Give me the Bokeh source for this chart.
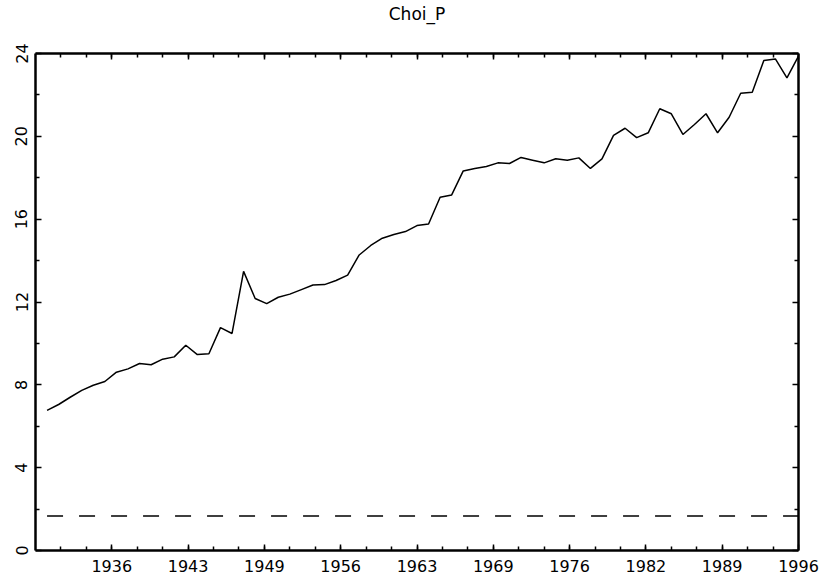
from bokeh.plotting import figure
from bokeh.models import Range1d, FixedTicker, LinearAxis, CustomJSTickFormatter
from bokeh.embed import file_html
from bokeh.resources import INLINE

# ---------------- data ----------------
title_text = "Choi_P"
years = list(range(1931, 1997))
choi_p = [
    6.77, 7.05, 7.40, 7.73, 7.98, 8.16, 8.61, 8.77, 9.03, 8.97,
    9.24, 9.35, 9.91, 9.46, 9.50, 10.76, 10.48, 13.48, 12.17, 11.92,
    12.23, 12.38, 12.60, 12.82, 12.84, 13.04, 13.30, 14.27, 14.73, 15.08,
    15.26, 15.40, 15.69, 15.77, 17.06, 17.17, 18.33, 18.45, 18.54, 18.72,
    18.69, 18.98, 18.85, 18.72, 18.92, 18.85, 18.96, 18.45, 18.91, 20.05,
    20.39, 19.94, 20.17, 21.33, 21.09, 20.09, 20.57, 21.09, 20.17, 20.92,
    22.08, 22.13, 23.66, 23.74, 22.82, 23.87,
]
crit_level = 1.66

x_start, x_end = 1930, 1996
y_start, y_end = 0, 24
x_major_ticks = [1936.6, 1943.2, 1949.8, 1956.4, 1963.0, 1969.6, 1976.2, 1982.8, 1989.4, 1996.0]
x_tick_labels = ["1936", "1943", "1949", "1956", "1963", "1969", "1976", "1982", "1989", "1996"]
x_minor_ticks = [1932.2, 1934.4, 1936.6, 1938.8, 1941.0, 1943.2, 1945.4, 1947.6, 1949.8,
                 1952.0, 1954.2, 1956.4, 1958.6, 1960.8, 1963.0, 1965.2, 1967.4, 1969.6,
                 1971.8, 1974.0, 1976.2, 1978.4, 1980.6, 1982.8, 1985.0, 1987.2, 1989.4,
                 1991.6, 1993.8]
y_major_ticks = [0, 4, 8, 12, 16, 20, 24]
y_minor_ticks = [2, 6, 10, 14, 18, 22]

FONT = "DejaVu Sans"

p = figure(
    width=824, height=581,
    x_range=Range1d(x_start, x_end), y_range=Range1d(y_start, y_end),
    output_backend="svg", toolbar_location=None,
    min_border_left=35, min_border_right=26, min_border_top=53, min_border_bottom=31,
)
p.grid.visible = False
p.outline_line_color = None
p.background_fill_color = "white"
p.border_fill_color = "white"

x_formatter = CustomJSTickFormatter(
    args=dict(tick_vals=x_major_ticks, tick_names=x_tick_labels),
    code="""
    let best = 0;
    for (let i = 0; i < tick_vals.length; i++) {
        if (Math.abs(tick_vals[i] - tick) < Math.abs(tick_vals[best] - tick)) best = i;
    }
    return tick_names[best];
    """,
)


def style(ax, show_labels):
    ax.axis_line_color = "black"
    ax.axis_line_width = 2.5
    ax.major_tick_in = 6
    ax.major_tick_out = 0
    ax.minor_tick_in = 4
    ax.minor_tick_out = 0
    ax.major_tick_line_color = "black"
    ax.minor_tick_line_color = "black"
    ax.major_tick_line_width = 1.5
    ax.minor_tick_line_width = 1.5
    ax.major_label_text_font = FONT
    if show_labels:
        ax.major_label_text_color = "black"
        ax.major_label_text_font_size = "16px"
    else:
        ax.major_label_text_color = None
        ax.major_label_text_font_size = "1px"
        ax.major_label_standoff = 0


xa = p.xaxis[0]
xa.ticker = FixedTicker(ticks=x_major_ticks, minor_ticks=x_minor_ticks)
xa.formatter = x_formatter
style(xa, True)
xa.major_label_standoff = 9

ya = p.yaxis[0]
ya.ticker = FixedTicker(ticks=y_major_ticks, minor_ticks=y_minor_ticks)
style(ya, True)
ya.major_label_orientation = "vertical"
ya.major_label_standoff = 8

top_ax = LinearAxis(ticker=FixedTicker(ticks=x_major_ticks, minor_ticks=x_minor_ticks))
style(top_ax, False)
p.add_layout(top_ax, "above")

# invisible spacer axis that lifts the title away from the frame
spacer_ax = LinearAxis(ticker=FixedTicker(ticks=[x_major_ticks[4]], minor_ticks=[]))
spacer_ax.axis_line_color = None
spacer_ax.major_tick_line_color = None
spacer_ax.minor_tick_line_color = None
spacer_ax.major_tick_in = 0
spacer_ax.major_tick_out = 30
spacer_ax.minor_tick_in = 0
spacer_ax.minor_tick_out = 0
spacer_ax.major_label_text_color = None
spacer_ax.major_label_text_font_size = "1px"
spacer_ax.major_label_standoff = 0
p.add_layout(spacer_ax, "above")

right_ax = LinearAxis(ticker=FixedTicker(ticks=y_major_ticks, minor_ticks=y_minor_ticks))
style(right_ax, False)
p.add_layout(right_ax, "right")

# series
p.line(years, choi_p, line_color="black", line_width=1.5)
p.line([years[0], years[-1]], [crit_level, crit_level], line_color="black",
       line_width=1.5, line_dash="16 16")

# title
p.title.text = title_text
p.title.align = "center"
p.title.text_font = FONT
p.title.text_font_size = "17px"
p.title.text_font_style = "normal"
p.title.text_color = "black"
p.title.standoff = 0

open("out.html", "w").write(file_html(p, INLINE))
